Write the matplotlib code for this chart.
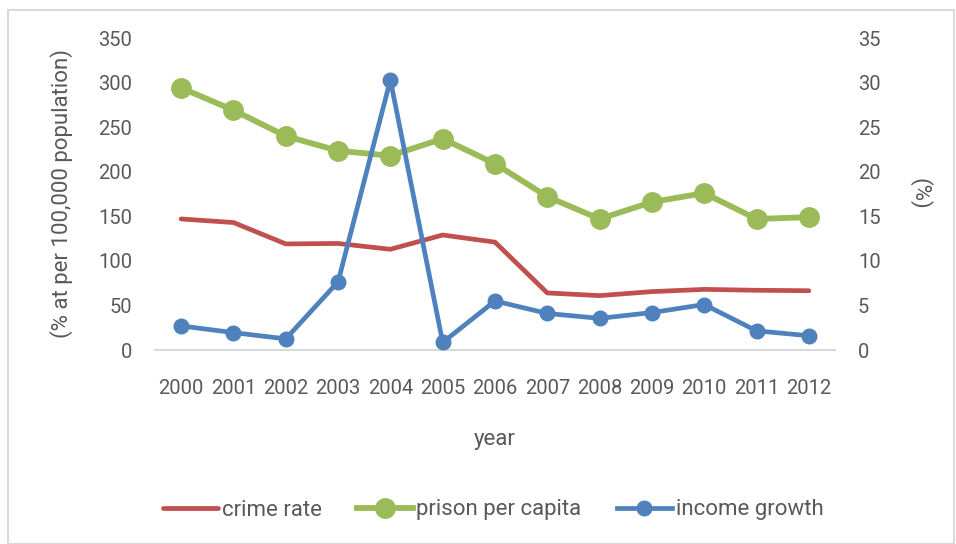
import matplotlib
matplotlib.use("Agg")
import matplotlib.pyplot as plt
from matplotlib import font_manager
from matplotlib.patches import Rectangle

# data
years = ["2000", "2001", "2002", "2003", "2004", "2005", "2006",
         "2007", "2008", "2009", "2010", "2011", "2012"]
crime_rate = [147, 143, 119, 119.5, 113, 129, 121, 64, 61, 65.5, 68, 67, 66.5]
prison_per_capita = [294, 269, 240, 223.5, 218, 237, 209, 172, 147, 166, 176, 147, 149]
income_growth = [2.7, 1.95, 1.25, 7.65, 30.3, 0.85, 5.5, 4.1, 3.55, 4.2, 5.1, 2.15, 1.6]

names = {f.name for f in font_manager.fontManager.ttflist}
family = "Liberation Sans Narrow" if "Liberation Sans Narrow" in names else "Roboto"
plt.rcParams["font.family"] = [family, "DejaVu Sans"]

txt = "#595959"
red = "#C0504D"
green = "#9BBB59"
blue = "#4F81BD"
fs = 14.5

fig = plt.figure(figsize=(9.56, 5.44), dpi=100)
ax = fig.add_axes([155 / 956, 1 - 350 / 544, 680 / 956, 312 / 544])
ax2 = ax.twinx()

x = list(range(len(years)))
l1, = ax.plot(x, crime_rate, color=red, lw=3.4, solid_capstyle="round",
              label="crime rate", zorder=2)
l2, = ax.plot(x, prison_per_capita, color=green, lw=4.2, marker="o", ms=14,
              label="prison per capita", zorder=3)
l3, = ax2.plot(x, income_growth, color=blue, lw=3.4, marker="o", ms=10.5,
               label="income growth")

ax.set_xlim(-0.5, len(years) - 0.5)
ax.set_ylim(0, 350)
ax2.set_ylim(0, 35)
ax.set_yticks(range(0, 351, 50))
ax2.set_yticks(range(0, 36, 5))
ax.set_xticks(x)
ax.set_xticklabels(years)

for a in (ax, ax2):
    for s in a.spines.values():
        s.set_visible(False)
    a.tick_params(length=0, labelsize=fs, labelcolor=txt)
ax.spines["bottom"].set_visible(True)
ax.spines["bottom"].set_color("#D9D9D9")
ax.spines["bottom"].set_linewidth(1.5)
ax.tick_params(axis="x", pad=21)
ax.tick_params(axis="y", pad=16.5)
ax2.tick_params(axis="y", pad=16.5)

ax.set_ylabel("(% at per 100,000 population)", fontsize=16, color=txt,
              va="center")
ax.yaxis.set_label_coords(-(155 - 62) / 680, 0.5)
ax2.set_ylabel("(%)", fontsize=16, color=txt, rotation=270, va="center")
ax2.yaxis.set_label_coords(1 + (920 - 835) / 680, 0.5)
ax.set_xlabel("year", fontsize=16, color=txt, va="center")
ax.xaxis.set_label_coords(0.5, -(440 - 350) / 312)

leg = fig.legend(handles=[l1, l2, l3], loc="center", ncol=3,
                 bbox_to_anchor=(493 / 956, 1 - 510 / 544), frameon=False,
                 fontsize=16, handlelength=2.5, handletextpad=0.15,
                 columnspacing=1.6)
for t in leg.get_texts():
    t.set_color(txt)

fig.patches.append(Rectangle((8 / 956, 0), 946 / 956, 1 - 10 / 544,
                             transform=fig.transFigure, fill=False,
                             edgecolor="#D9D9D9", lw=1.5))

fig.savefig("out.png", dpi=100)
